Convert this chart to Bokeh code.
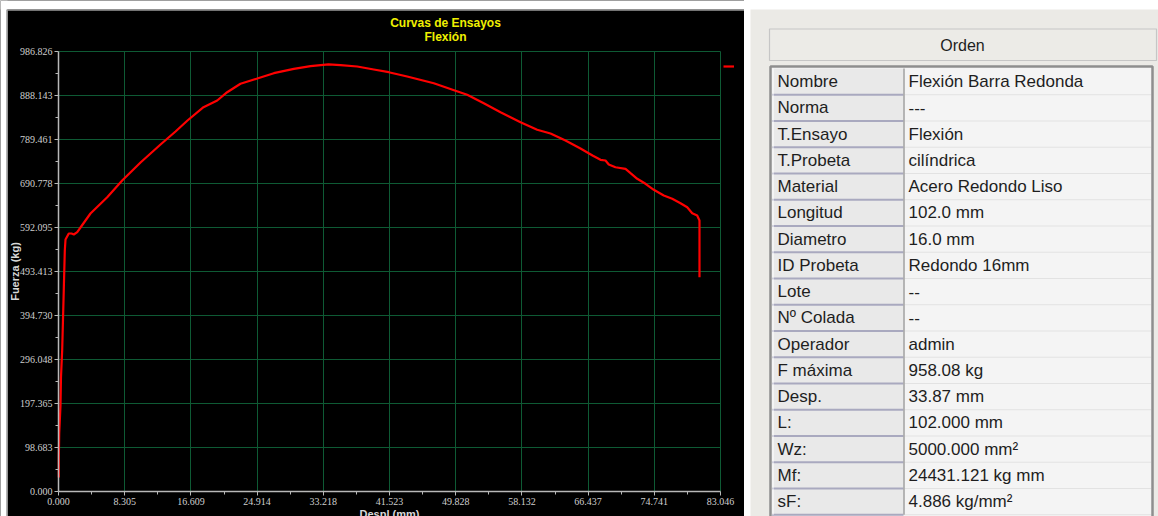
from bokeh.plotting import figure
from bokeh.models import (Range1d, FixedTicker, NumeralTickFormatter, Label,
                          Legend, LegendItem, ColumnDataSource, Grid)
from bokeh.layouts import row
from bokeh.embed import file_html
from bokeh.resources import INLINE
from bokeh.core.properties import value

# ---------------- data ----------------
despl_mm = [0.04, 0.04, 0.09, 0.25, 0.31, 0.46, 0.66, 0.79, 0.88, 1.29, 1.63, 1.92,
            2.35, 2.76, 4.01, 6.11, 7.99, 10.29, 12.80, 14.68, 16.18, 18.19, 19.91,
            21.16, 22.83, 24.84, 27.01, 29.52, 31.61, 33.87, 35.38, 37.47, 39.55,
            41.43, 43.74, 47.08, 49.71, 51.27, 53.35, 55.45, 57.96, 60.05, 61.72,
            63.60, 65.48, 66.99, 67.99, 68.62, 69.03, 69.87, 71.13, 71.76, 72.60,
            73.64, 74.68, 75.93, 76.99, 78.03, 78.87, 79.50, 80.12, 80.41, 80.41, 80.41]
fuerza_kg = [31.4, 76.3, 130.1, 192.9, 255.7, 316.2, 450.8, 540.5, 565.2, 578.6, 578.6,
             576.4, 581.6, 592.1, 623.5, 660.1, 697.5, 737.9, 778.3, 807.4, 832.1,
             861.9, 876.9, 895.5, 914.4, 925.6, 938.2, 948.0, 953.9, 958.08, 956.1,
             953.2, 946.5, 940.4, 930.8, 915.7, 899.4, 889.7, 870.9, 850.7, 828.3,
             811.2, 802.9, 787.2, 769.3, 753.6, 743.9, 742.4, 733.4, 727.3, 723.7,
             713.9, 701.3, 690.1, 676.6, 663.9, 656.5, 646.6, 637.6, 624.2, 619.0,
             607.8, 592.8, 480.6]

x_tick_labels = ["0.000", "8.305", "16.609", "24.914", "33.218", "41.523",
                 "49.828", "58.132", "66.437", "74.741", "83.046"]
y_tick_labels = ["0.000", "98.683", "197.365", "296.048", "394.730", "493.413",
                 "592.095", "690.778", "789.461", "888.143", "986.826"]

title_lines = ["Curvas de Ensayos", "Flexión"]
x_label = "Despl (mm)"
y_label = "Fuerza (kg)"

header_text = "Orden"
field_names = ["Nombre", "Norma", "T.Ensayo", "T.Probeta", "Material", "Longitud",
               "Diametro", "ID Probeta", "Lote", "Nº Colada", "Operador", "F máxima",
               "Desp.", "L:", "Wz:", "Mf:", "sF:"]
field_values = ["Flexión Barra Redonda", "---", "Flexión", "cilíndrica",
                "Acero Redondo Liso", "102.0 mm", "16.0 mm", "Redondo 16mm", "--",
                "--", "admin", "958.08 kg", "33.87 mm", "102.000 mm",
                "5000.000 mm²", "24431.121 kg mm", "4.886 kg/mm²"]

# ---------------- layout / styles (page pixels) ----------------
GRID = "#0e5a34"
AXIS = "#b8b8b8"
TICKLBL = "#cfcfcf"
YELLOW = "#f0f000"
TICK_FONT = "Liberation Sans Narrow"
PANEL = "#ebeae6"

W1, W2, H = 744, 414, 516
PLOT_LEFT, PLOT_RIGHT = 58, 720       # chart area columns
PLOT_TOP, PLOT_BOT = 51, 491          # chart area rows
BLACK_LEFT, BLACK_TOP = 7, 10         # black panel starts here

x_ticks = [float(s) for s in x_tick_labels]
y_ticks = [float(s) for s in y_tick_labels]
x_minor = [(a + b) / 2 for a, b in zip(x_ticks[:-1], x_ticks[1:])]
y_minor = [(a + b) / 2 for a, b in zip(y_ticks[:-1], y_ticks[1:])]
kx = x_ticks[-1] / (PLOT_RIGHT - PLOT_LEFT)      # data units per pixel (x)
ky = y_ticks[-1] / (PLOT_BOT - PLOT_TOP)         # data units per pixel (y)
x_start = x_ticks[0] - PLOT_LEFT * kx
x_end = x_ticks[-1] + (W1 - PLOT_RIGHT) * kx
y_start = y_ticks[0] - (H - PLOT_BOT) * ky
y_end = y_ticks[-1] + PLOT_TOP * ky


def dx(px):
    return x_start + px * kx


def dy(py):
    return y_end - py * ky


p = figure(width=W1, height=H,
           x_range=Range1d(x_start, x_end), y_range=Range1d(y_start, y_end),
           output_backend="svg", toolbar_location=None, min_border=0,
           background_fill_color="black", border_fill_color="black",
           outline_line_color=None)

# white page margin around the black chart panel + its grey rim
p.quad(left=[dx(0)], right=[dx(BLACK_LEFT)], top=[dy(0)], bottom=[dy(H)],
       fill_color="white", line_color=None)
p.quad(left=[dx(0)], right=[dx(W1)], top=[dy(0)], bottom=[dy(BLACK_TOP - 1)],
       fill_color="white", line_color=None)
p.line(x=[dx(BLACK_LEFT - 0.5), dx(BLACK_LEFT - 0.5), dx(W1)],
       y=[dy(H), dy(BLACK_TOP - 0.5), dy(BLACK_TOP - 0.5)],
       line_color="#9a9a9a", line_width=1.5)

p.xaxis.ticker = FixedTicker(ticks=x_ticks, minor_ticks=x_minor)
p.yaxis.ticker = FixedTicker(ticks=y_ticks, minor_ticks=y_minor)
p.xaxis.formatter = NumeralTickFormatter(format="0.000")
p.yaxis.formatter = NumeralTickFormatter(format="0.000")
p.xaxis.fixed_location = y_ticks[0]
p.yaxis.fixed_location = x_ticks[0]
p.xaxis.bounds = (x_ticks[0], x_ticks[-1])
p.yaxis.bounds = (y_ticks[0], y_ticks[-1])
for ax in (p.xaxis, p.yaxis):
    ax.axis_line_color = AXIS
    ax.axis_line_width = 1.5
    ax.major_tick_line_color = AXIS
    ax.minor_tick_line_color = AXIS
    ax.major_tick_out = 4
    ax.major_tick_in = 0
    ax.minor_tick_out = 3
    ax.minor_tick_in = 0
    ax.major_label_text_color = TICKLBL
    ax.major_label_text_font = TICK_FONT
    ax.major_label_text_font_size = "10px"
    ax.major_label_standoff = 2
    ax.axis_label_text_color = "#d8d8d8"
    ax.axis_label_text_font = "Liberation Sans"
    ax.axis_label_text_font_style = "bold"
    ax.axis_label_text_font_size = "11px"
p.yaxis.axis_label = y_label
p.yaxis.axis_label_standoff = -4
p.xaxis.axis_label = x_label
p.xaxis.axis_label_standoff = 0

p.xgrid.grid_line_color = GRID
p.ygrid.grid_line_color = GRID
p.xgrid.bounds = (x_ticks[0] - 1, x_ticks[-1] + 1)
p.ygrid.bounds = (y_ticks[0] - 1, y_ticks[-1] + 1)
if "cross_bounds" in Grid.properties():
    p.xgrid.cross_bounds = (y_ticks[0], y_ticks[-1])
    p.ygrid.cross_bounds = (x_ticks[0], x_ticks[-1])
else:
    p.xgrid.visible = False
    p.ygrid.visible = False
    p.segment(x0=x_ticks, x1=x_ticks, y0=[y_ticks[0]] * len(x_ticks),
              y1=[y_ticks[-1]] * len(x_ticks), line_color=GRID, line_width=1)
    p.segment(x0=[x_ticks[0]] * len(y_ticks), x1=[x_ticks[-1]] * len(y_ticks),
              y0=y_ticks, y1=y_ticks, line_color=GRID, line_width=1)

src = ColumnDataSource(dict(x=despl_mm, y=fuerza_kg))
curve = p.line("x", "y", source=src, line_color="#ff0000", line_width=2.2)

legend = Legend(items=[LegendItem(label=" ", renderers=[curve])],
                location=(723, H - 68), padding=0, margin=0,
                spacing=0, glyph_width=11, glyph_height=4, label_height=4,
                label_width=0, label_standoff=0, label_text_font_size="1px",
                border_line_alpha=0, background_fill_alpha=0)
p.add_layout(legend)

for line_text, line_y in zip(title_lines, [22, 36]):
    p.add_layout(Label(x=dx(445), y=dy(line_y), text=line_text,
                       text_align="center", text_baseline="middle", text_color=YELLOW,
                       text_font="Liberation Sans", text_font_style="bold",
                       text_font_size="12px"))

# ---------------- info table (page-pixel coordinates) ----------------
t = figure(width=W2, height=H, x_range=Range1d(W1, W1 + W2), y_range=Range1d(H, 0),
           output_backend="svg", toolbar_location=None, min_border=0,
           x_axis_type=None, y_axis_type=None,
           background_fill_color="white", border_fill_color="white",
           outline_line_color=None)
t.grid.visible = False

# grey panel
t.quad(left=[750], right=[W1 + W2 + 1], top=[9], bottom=[H + 1],
       fill_color=PANEL, line_color=None)
# header button
t.quad(left=[769], right=[1156], top=[28.5], bottom=[60], fill_color="#ecebe7",
       line_color="#c6c6c6", line_width=1.2)
t.text(x=[962], y=[45], text=[header_text], text_align="center", text_baseline="middle",
       text_color="#1e1e1e", text_font=value("Liberation Sans"), text_font_size="16px")
# table frame
t.quad(left=[770], right=[1152], top=[66], bottom=[H + 2], fill_color="#f4f4f4",
       line_color="#8e8e8e", line_width=2.5)

n = len(field_names)
pitch = 26.25
row_top = [68 + i * pitch for i in range(n)]
row_bot = [rt + pitch for rt in row_top]
row_mid = [rt + pitch / 2 for rt in row_top]
tsrc = ColumnDataSource(dict(top=row_top, bottom=row_bot, mid=row_mid,
                             name=field_names, val=field_values))
t.quad(left=771.5, right=903, top="top", bottom="bottom", source=tsrc,
       fill_color="#e9e9e9", line_color=None)
t.quad(left=904, right=1150.5, top="top", bottom="bottom", source=tsrc,
       fill_color="#f4f4f4", line_color=None)
t.segment(x0=771.5, x1=903, y0="bottom", y1="bottom", source=tsrc,
          line_color="#a9a9bf", line_width=2)
t.segment(x0=772.5, x1=772.5, y0="top", y1="bottom", source=tsrc,
          line_color="#ffffff", line_width=1)
t.segment(x0=904, x1=1150.5, y0="bottom", y1="bottom", source=tsrc,
          line_color="#e2e2e2", line_width=1)
t.segment(x0=[903.5], x1=[903.5], y0=[row_top[0]], y1=[row_bot[-1]],
          line_color="#a0a0a0", line_width=1.5)
t.text(x=777, y="mid", text="name", source=tsrc, text_baseline="middle",
       text_color="#1e1e1e", text_font=value("Liberation Sans"), text_font_size="17px")
t.text(x=908, y="mid", text="val", source=tsrc, text_baseline="middle",
       text_color="#1e1e1e", text_font=value("Liberation Sans"), text_font_size="17px")

layout = row(p, t)
open("out.html", "w").write(file_html(layout, INLINE))
